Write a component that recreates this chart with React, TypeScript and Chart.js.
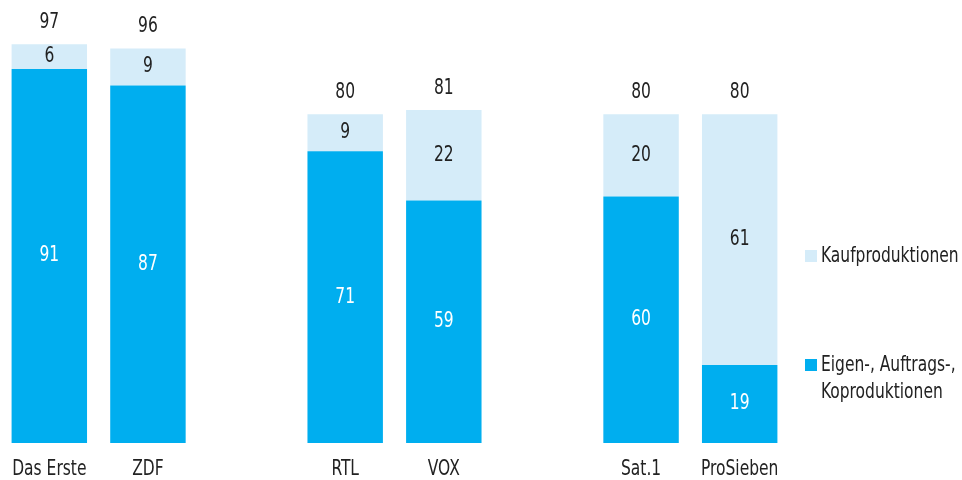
import React, { useEffect, useRef } from "react";
import { Chart, registerables } from "chart.js";

Chart.register(...registerables);

const categories = ["Das Erste", "ZDF", "", "RTL", "VOX", "", "Sat.1", "ProSieben"];
const eigenValues = [91, 87, null, 71, 59, null, 60, 19];
const kaufValues = [6, 9, null, 9, 22, null, 20, 61];
const totals = [97, 96, null, 80, 81, null, 80, 80];
const seriesNames = ["Eigen-, Auftrags-, Koproduktionen", "Kaufproduktionen"];

const DARK = "#00AEEF";
const LIGHT = "#D5ECF9";
const TEXT = "#222222";
const FONT = "'Liberation Sans Narrow', 'DejaVu Sans', sans-serif";
const SX = 0.82;

function drawText(ctx: any, text: string, x: number, y: number) {
  ctx.save();
  ctx.translate(x, y);
  ctx.scale(SX, 1);
  ctx.fillText(text, 0, 0);
  ctx.restore();
}

const labelPlugin = {
  id: "labels",
  afterDatasetsDraw(chart: any) {
    const ctx = chart.ctx;
    const area = chart.chartArea;
    ctx.save();
    ctx.font = `condensed 21px ${FONT}`;
    try { (ctx as any).fontStretch = "condensed"; } catch (e) {}
    ctx.textAlign = "center";
    ctx.textBaseline = "middle";
    const m0 = chart.getDatasetMeta(0);
    const m1 = chart.getDatasetMeta(1);
    categories.forEach((c, i) => {
      const b0 = m0.data[i];
      const b1 = m1.data[i];
      if (eigenValues[i] != null && b0) {
        ctx.fillStyle = "#ffffff";
        drawText(ctx, String(eigenValues[i]), b0.x, (b0.y + b0.base) / 2);
      }
      if (kaufValues[i] != null && b1) {
        ctx.fillStyle = TEXT;
        drawText(ctx, String(kaufValues[i]), b1.x, (b1.y + b1.base) / 2);
        drawText(ctx, String(totals[i]), b1.x, b1.y - 22);
      }
      if (c && b0) {
        ctx.fillStyle = TEXT;
        drawText(ctx, c, b0.x, area.bottom + 27);
      }
    });
    ctx.restore();
  },
};

export default function App() {
  const ref = useRef<HTMLCanvasElement>(null);
  useEffect(() => {
    if (!ref.current) return;
    const chart = new Chart(ref.current, {
      type: "bar",
      data: {
        labels: categories,
        datasets: [
          {
            label: seriesNames[0],
            data: eigenValues as any,
            backgroundColor: DARK,
            barPercentage: 0.765,
            categoryPercentage: 1,
          },
          {
            label: seriesNames[1],
            data: kaufValues as any,
            backgroundColor: LIGHT,
            barPercentage: 0.765,
            categoryPercentage: 1,
          },
        ],
      },
      plugins: [labelPlugin],
      options: {
        animation: false,
        responsive: false,
        maintainAspectRatio: false,
        layout: { padding: { left: 0, right: 173, top: 32, bottom: 37 } },
        plugins: { legend: { display: false }, tooltip: { enabled: false } },
        scales: {
          x: { stacked: true, display: false },
          y: { stacked: true, display: false, min: 0, max: 100 },
        },
      },
    });
    return () => chart.destroy();
  }, []);

  const legendText: React.CSSProperties = {
    fontFamily: FONT,
    fontStretch: "condensed",
    fontSize: 21,
    color: TEXT,
    lineHeight: "27px",
    whiteSpace: "nowrap",
    transform: `scaleX(${SX})`,
    transformOrigin: "left top",
  };

  return (
    <div style={{ position: "absolute", left: 0, top: 0, width: 962, height: 480, background: "#fff" }}>
      <canvas ref={ref} width={962} height={480} style={{ position: "absolute", left: 0, top: 0 }} />
      <div style={{ position: "absolute", left: 805, top: 250, width: 12, height: 12, background: LIGHT }} />
      <div style={{ ...legendText, position: "absolute", left: 821, top: 242 }}>{seriesNames[1]}</div>
      <div style={{ position: "absolute", left: 805, top: 359, width: 12, height: 12, background: DARK }} />
      <div style={{ ...legendText, position: "absolute", left: 821, top: 351 }}>
        Eigen-, Auftrags-,
        <br />
        Koproduktionen
      </div>
    </div>
  );
}
